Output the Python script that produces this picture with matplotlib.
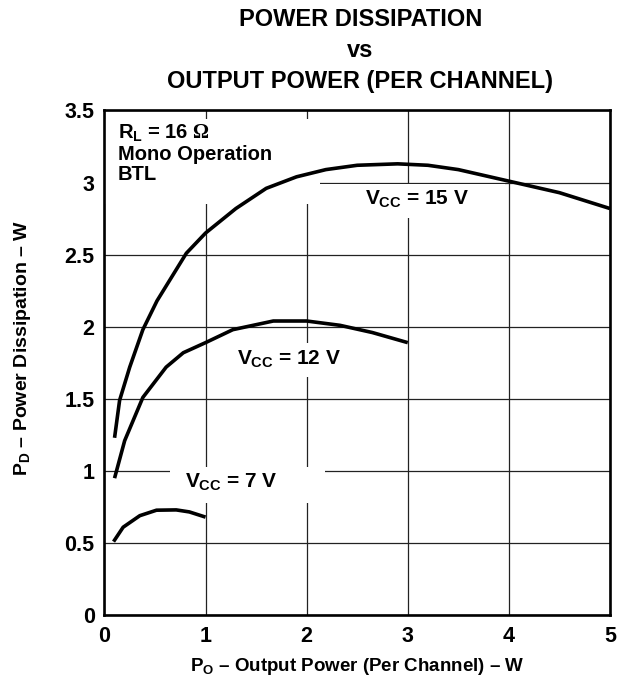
import numpy as np
import matplotlib.pyplot as plt
from matplotlib.patches import Rectangle

plt.rcParams['font.family'] = ['Liberation Sans', 'DejaVu Sans']
plt.rcParams['font.weight'] = 'bold'
plt.rcParams['mathtext.fontset'] = 'custom'
plt.rcParams['mathtext.rm'] = 'Liberation Sans:bold'
plt.rcParams['mathtext.it'] = 'Liberation Sans:bold'
plt.rcParams['mathtext.bf'] = 'Liberation Sans:bold'
plt.rcParams['mathtext.sf'] = 'Liberation Serif'

# ---- data ----
po_15 = [0.10, 0.15, 0.25, 0.38, 0.52, 0.81, 1.0, 1.3, 1.6, 1.9, 2.19, 2.5, 2.9, 3.2, 3.5, 4.0, 4.5, 5.0]
pd_15 = [1.23, 1.49, 1.72, 1.98, 2.18, 2.51, 2.65, 2.82, 2.96, 3.04, 3.09, 3.12, 3.13, 3.12, 3.09, 3.01, 2.93, 2.82]

po_12 = [0.10, 0.2, 0.38, 0.61, 0.78, 1.0, 1.27, 1.67, 2.0, 2.33, 2.65, 3.0]
pd_12 = [0.95, 1.21, 1.51, 1.72, 1.82, 1.89, 1.98, 2.04, 2.04, 2.01, 1.96, 1.89]

po_7 = [0.09, 0.185, 0.35, 0.515, 0.71, 0.84, 1.0]
pd_7 = [0.51, 0.61, 0.69, 0.728, 0.73, 0.716, 0.68]

x_ticks = [0, 1, 2, 3, 4, 5]
x_tick_labels = ['0', '1', '2', '3', '4', '5']
y_ticks = [0, 0.5, 1, 1.5, 2, 2.5, 3, 3.5]
y_tick_labels = ['0', '0.5', '1', '1.5', '2', '2.5', '3', '3.5']

title_lines = ['POWER DISSIPATION', 'vs', 'OUTPUT POWER (PER CHANNEL)']

fig = plt.figure(figsize=(6.18, 6.82), dpi=100)
ax = fig.add_axes([0.169, 0.098, 0.818, 0.740])

ax.set_xlim(0, 5)
ax.set_ylim(0, 3.5)
ax.set_xticks(x_ticks)
ax.set_xticklabels(x_tick_labels)
ax.set_yticks(y_ticks)
ax.set_yticklabels(y_tick_labels)
ax.tick_params(length=0, labelsize=15.5)
ax.tick_params(axis='x', pad=8)
ax.tick_params(axis='y', pad=7)
for lbl in ax.get_xticklabels() + ax.get_yticklabels():
    lbl.set_fontweight('bold')
ax.grid(True, color='#222222', linewidth=0.9, zorder=1)
ax.set_axisbelow(True)
for s in ax.spines.values():
    s.set_linewidth(1.9)

# white masks where the labels sit on the grid
masks = [(0.0, 2.85, 2.13, 0.59), (2.13, 2.755, 1.83, 0.237),
         (1.04, 1.65, 1.88, 0.24), (0.65, 0.78, 1.53, 0.245)]
for mx, my, mw, mh in masks:
    ax.add_patch(Rectangle((mx, my), mw, mh, facecolor='white', edgecolor='none', zorder=2))

for xs, ys in [(po_15, pd_15), (po_12, pd_12), (po_7, pd_7)]:
    ax.plot(xs, ys, color='black', linewidth=2.6, solid_capstyle='butt', zorder=3)

ax.text(0.13, 3.415, '$R_L$ = 16 $\\mathsf{\\Omega}$\nMono Operation\nBTL', fontsize=14.5,
        fontweight='bold', va='top', ha='left', linespacing=1.08, zorder=4)
ax.text(3.09, 2.885, '$V_{CC}$ = 15 V', fontsize=15, fontweight='bold', ha='center', va='center', zorder=4)
ax.text(1.825, 1.775, '$V_{CC}$ = 12 V', fontsize=15, fontweight='bold', ha='center', va='center', zorder=4)
ax.text(1.25, 0.92, '$V_{CC}$ = 7 V', fontsize=15, fontweight='bold', ha='center', va='center', zorder=4)

ax.set_xlabel('$P_O$ \u2013 Output Power (Per Channel) \u2013 W', fontsize=13.5, fontweight='bold', labelpad=6)
ax.set_ylabel('$P_D$ \u2013 Power Dissipation \u2013 W', fontsize=14, fontweight='bold')
ax.yaxis.set_label_coords(-0.141, 0.53)

for i, line in enumerate(title_lines):
    fig.text(0.583, 0.971 - i * 0.045, line, fontsize=17, fontweight='bold', ha='center', va='center')

fig.savefig('out.png', dpi=100)
